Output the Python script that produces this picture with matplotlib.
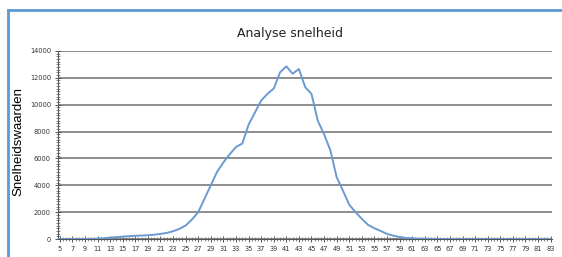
import matplotlib.pyplot as plt
from matplotlib.ticker import MultipleLocator

# speed classes 5..83
classes = list(range(5, 84))
counts = [
    0, 0, 0, 0, 5, 10, 30, 60, 100, 140,          # 5-14
    180, 210, 240, 260, 280, 320, 380, 450, 580, 750,   # 15-24
    1000, 1450, 2000, 3000, 4000, 5000, 5700, 6300, 6850, 7100,  # 25-34
    8500, 9400, 10300, 10800, 11200, 12400, 12850, 12300, 12650, 11300,  # 35-44
    10800, 8800, 7800, 6600, 4600, 3600, 2550, 2000, 1500, 1050,  # 45-54
    800, 600, 380, 250, 150, 80, 50, 30, 20, 10,  # 55-64
    5, 0, 0, 0, 0, 0, 0, 0, 0, 0,  # 65-74
    0, 0, 0, 0, 0, 0, 0, 0, 0,  # 75-83
]
xlabels = list(range(5, 84, 2))

fig = plt.figure(figsize=(5.62, 2.57), dpi=100)
ax = fig.add_axes([0.103, 0.070, 0.879, 0.732])

ax.plot(classes, counts, color="#6a9bd0", lw=1.4, zorder=3)

ax.set_xlim(4.7, 83.2)
ax.set_ylim(0, 14000)
ax.set_xticks(xlabels)
ax.xaxis.set_minor_locator(MultipleLocator(0.5))
ax.yaxis.set_major_locator(MultipleLocator(2000))
ax.yaxis.set_minor_locator(MultipleLocator(200))
ax.grid(axis="y", color="#7a7a7a", lw=1.2, zorder=1)

for s in ["top", "right"]:
    ax.spines[s].set_visible(False)
ax.spines["left"].set_color("#555555")
ax.spines["bottom"].set_color("#555555")
ax.tick_params(which="both", direction="inout", color="#555555", labelsize=4.8,
               labelcolor="#333333")
ax.tick_params(which="major", length=4, width=0.7, pad=3)
ax.tick_params(which="minor", length=3, width=0.5)

ax.set_ylabel("Snelheidswaarden", fontsize=9.5, family="Liberation Sans")
ax.yaxis.set_label_coords(-0.068, 0.52)
fig.text(0.516, 0.87, "Analyse snelheid", ha="center", va="center", fontsize=9,
         color="#222222")

# blue frame
fig.add_artist(plt.Line2D([8 / 562, 8 / 562], [0, 1 - 10 / 257],
                          transform=fig.transFigure, color="#5b9bd5", lw=2))
fig.add_artist(plt.Line2D([8 / 562, 1], [1 - 10 / 257, 1 - 10 / 257],
                          transform=fig.transFigure, color="#5b9bd5", lw=2))

fig.savefig("out.png", dpi=100)
